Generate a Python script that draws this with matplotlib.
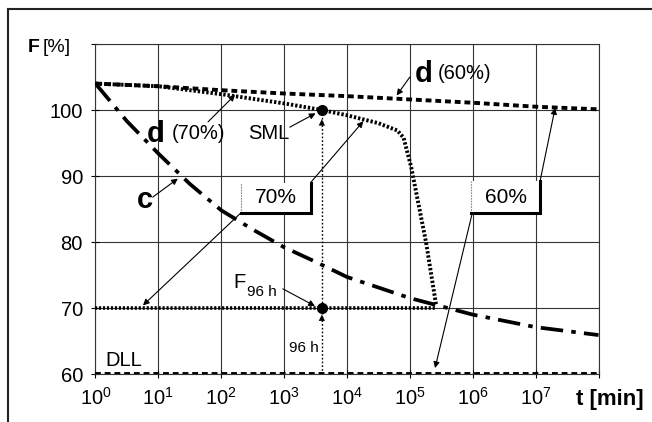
import numpy as np
import matplotlib
matplotlib.use("Agg")
import matplotlib.pyplot as plt
from matplotlib.lines import Line2D
from matplotlib.patches import Rectangle

plt.rcParams['font.family'] = ['Liberation Sans', 'DejaVu Sans']
plt.rcParams['mathtext.fontset'] = 'custom'
plt.rcParams['mathtext.rm'] = 'Liberation Sans'
plt.rcParams['mathtext.it'] = 'Liberation Sans:italic'
plt.rcParams['mathtext.bf'] = 'Liberation Sans:bold'

# ---------------- data (time as log10 of minutes) ----------------
c_logt = [0, 0.5, 1, 1.5, 2, 2.5, 3, 3.5, 4, 5, 6, 7, 8]
c_F = [104.0, 98.3, 93.4, 88.8, 84.8, 81.9, 79.2, 77.0, 74.7, 71.5, 69.0, 67.1, 65.9]

d60_logt = [0, 1, 2, 3, 4, 5, 6, 7, 8]
d60_F = [104.0, 103.6, 103.0, 102.5, 102.1, 101.6, 101.1, 100.5, 100.1]

d70_logt = [0, 1, 2, 3, 3.6, 4, 4.5, 4.8, 4.9, 5.02, 5.26, 5.42]
d70_F = [104.0, 103.6, 102.4, 101.0, 100.0, 99.2, 98.0, 96.9, 95.8, 91.4, 79.8, 70.3]

load70_logt = [0, 5.42]
load70_F = [70, 70]

dll_logt = [0, 8]
dll_F = [60, 60]

sml_logt = 3.6
sml_F = [100, 70]

xtick_exp = [0, 1, 2, 3, 4, 5, 6, 7, 8]
xtick_labels = [r'$\mathdefault{10^{0}}$', r'$\mathdefault{10^{1}}$', r'$\mathdefault{10^{2}}$',
                r'$\mathdefault{10^{3}}$', r'$\mathdefault{10^{4}}$', r'$\mathdefault{10^{5}}$',
                r'$\mathdefault{10^{6}}$', r'$\mathdefault{10^{7}}$', '']
yticks = [60, 70, 80, 90, 100, 110]
ytick_labels = ['60', '70', '80', '90', '100', '']

# ---------------- figure ----------------
W, H = 652, 422
fig = plt.figure(figsize=(W / 100, H / 100), dpi=100)
ax = fig.add_axes([95.5 / W, 1 - 374 / H, (598.5 - 95.5) / W, (374 - 44) / H])
ax.set_xscale('log')
ax.set_xlim(1, 1e8)
ax.set_ylim(60, 110)

def P(v):
    return 10 ** np.asarray(v, dtype=float)

ax.set_xticks(P(xtick_exp))
ax.set_xticklabels(xtick_labels, fontsize=14.5)
ax.xaxis.set_minor_locator(matplotlib.ticker.NullLocator())
ax.set_yticks(yticks)
ax.set_yticklabels(ytick_labels, fontsize=14.5)
ax.tick_params(direction='inout', length=6, width=0.8, pad=6, colors='black')
ax.grid(True, which='major', color='#333333', lw=0.8)
for s in ax.spines.values():
    s.set_color('#333333')
    s.set_linewidth(0.8)

# curves
ax.plot(P(c_logt), c_F, color='black', lw=2.7, dashes=(6, 2.2, 1.2, 2.2), zorder=5)
ax.plot(P(d60_logt), d60_F, color='black', lw=2.8, dashes=(1.5, 1.0), zorder=5)
ax.plot(P(d70_logt), d70_F, color='black', lw=2.8, dashes=(0.6, 0.5), zorder=5)
ax.plot(P(load70_logt), load70_F, color='black', lw=2.6, dashes=(0.6, 0.5), zorder=5)
ax.plot(P(dll_logt), dll_F, color='black', lw=2.8, dashes=(1.5, 1.0), zorder=5)

# SML vertical line and markers
xs = 10 ** sml_logt
ax.plot([xs, xs], [60, 100], color='black', lw=1.0, dashes=(1.2, 1.5), zorder=4)
ax.plot([xs, xs], sml_F, 'o', color='black', ms=7, zorder=7)
for ytip in (98.6, 69.0):
    ax.annotate('', xy=(xs, ytip), xytext=(xs, ytip - 1.5),
                arrowprops=dict(arrowstyle='-|>', color='black', lw=0.1,
                                mutation_scale=11, shrinkA=0, shrinkB=0), zorder=7)

arrow_kw = dict(arrowstyle='-|>', color='black', lw=0.8, mutation_scale=9,
                shrinkA=0, shrinkB=0)

def arrow(x0, y0, x1, y1):
    ax.annotate('', xy=(10 ** x1, y1), xytext=(10 ** x0, y0), arrowprops=arrow_kw, zorder=8)

# boxes
def box(lx0, lx1, y0, y1, label):
    x0, x1 = 10 ** lx0, 10 ** lx1
    ax.add_patch(Rectangle((x0, y0), x1 - x0, y1 - y0, facecolor='white',
                           edgecolor='none', zorder=6))
    ax.plot([x0, x0], [y0, y1], color='#888888', lw=0.8, dashes=(1.5, 1), zorder=7)
    ax.plot([x0, x1, x1], [y0, y0, y1], color='black', lw=2.2, zorder=7,
            solid_joinstyle='miter')
    ax.text(10 ** ((lx0 + lx1) / 2), (y0 + y1) / 2, label, ha='center', va='center',
            fontsize=15, zorder=8)

box(2.32, 3.42, 84.4, 89.0, '70%')
box(5.98, 7.07, 84.4, 89.2, '60%')

arrow(3.43, 89.1, 4.26, 98.3)
arrow(2.30, 84.3, 0.755, 70.4)
arrow(7.07, 89.2, 7.31, 100.3)
arrow(5.99, 84.3, 5.40, 60.9)

# labels
ax.text(10 ** 0.82, 96.4, 'd', fontsize=21, fontweight='bold', va='center', ha='left', zorder=8)
ax.text(10 ** 1.216, 96.4, '(70%)', fontsize=14.5, va='center', ha='left', zorder=8)
arrow(1.79, 98.2, 2.22, 102.3)

ax.text(10 ** 2.42, 96.5, 'SML', fontsize=14.5, va='center', ha='left', zorder=8)
arrow(3.09, 97.4, 3.50, 99.5)

ax.text(10 ** 0.66, 86.4, 'c', fontsize=21, fontweight='bold', va='center', ha='left', zorder=8)
arrow(0.91, 86.8, 1.31, 89.6)

ax.text(10 ** 5.07, 105.5, 'd', fontsize=21, fontweight='bold', va='center', ha='left', zorder=8)
ax.text(10 ** 5.45, 105.5, '(60%)', fontsize=14.5, va='center', ha='left', zorder=8)
arrow(5.0, 105.0, 4.79, 102.2)

ax.text(10 ** 2.19, 73.9, 'F', fontsize=14.5, va='center', ha='left', zorder=8)
ax.text(10 ** 2.41, 72.4, '96 h', fontsize=11, va='center', ha='left', zorder=8)
arrow(2.98, 72.9, 3.49, 70.3)

ax.text(10 ** 0.15, 62.1, 'DLL', fontsize=14.5, va='center', ha='left', zorder=8)
ax.text(10 ** 3.07, 63.9, '96 h', fontsize=11, va='center', ha='left', zorder=8)

# axis titles
fig.text(28 / W, 1 - 47 / H, 'F', fontsize=14, fontweight='bold', va='center', ha='left')
fig.text(43 / W, 1 - 47 / H, '[%]', fontsize=14, va='center', ha='left')
fig.text(644 / W, 1 - 400 / H, 't [min]', fontsize=16, fontweight='bold', va='center', ha='right')

# outer frame
fig.add_artist(Line2D([8 / W, 1], [1 - 9 / H, 1 - 9 / H], color='#222222', lw=1.5,
                      transform=fig.transFigure))
fig.add_artist(Line2D([8 / W, 8 / W], [0, 1 - 9 / H], color='#222222', lw=1.5,
                      transform=fig.transFigure))

fig.savefig('out.png', dpi=100)
